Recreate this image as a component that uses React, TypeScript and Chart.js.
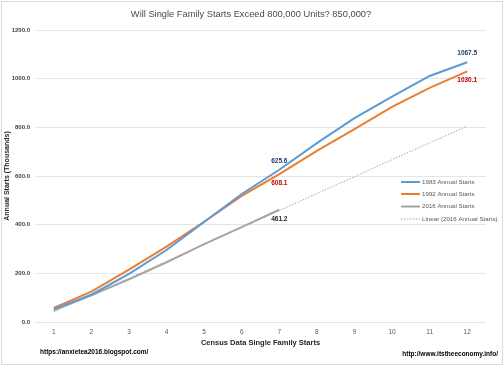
import React, { useEffect, useRef } from "react";
import { Chart, registerables } from "chart.js";

Chart.register(...registerables);

const chartTitle = "Will Single Family Starts Exceed 800,000 Units? 850,000?";
const categories = ["1", "2", "3", "4", "5", "6", "7", "8", "9", "10", "11", "12"];
const starts1983 = [53, 112, 198, 296, 411, 526, 625.6, 735, 838, 926, 1011, 1067.5];
const starts1992 = [58, 125, 215, 310, 412, 518, 608.1, 703, 793, 884, 962, 1030.1];
const starts2016 = [48, 110, 175, 245, 320, 390, 461.2, null, null, null, null, null];
const linear2016 = [42, 111, 180, 250, 319, 389, 458, 528, 597, 667, 736, 805];
const yTicks = [0, 200, 400, 600, 800, 1000, 1200];

const FONT = "'Liberation Sans', Arial, sans-serif";

const decorPlugin = {
  id: "decor",
  afterDatasetsDraw(chart: any) {
    const ctx = chart.ctx;
    ctx.save();
    // data labels
    const labels: [number, number, string, number][] = [
      [0, 6, "#1F3864", -9],
      [0, 11, "#1F3864", -9],
      [1, 6, "#C00000", 9],
      [1, 11, "#C00000", 9],
      [2, 6, "#262626", 9],
    ];
    ctx.font = `bold 6.5px ${FONT}`;
    ctx.textAlign = "center";
    ctx.textBaseline = "middle";
    for (const [di, pi, color, dy] of labels) {
      const meta = chart.getDatasetMeta(di);
      const pt = meta.data[pi];
      const v = chart.data.datasets[di].data[pi];
      ctx.fillStyle = color;
      ctx.fillText(Number(v).toFixed(1), pt.x, pt.y + dy);
    }
    // legend
    const legendX = 401;
    const rows = [182, 194, 206.5, 219];
    chart.data.datasets.forEach((ds: any, i: number) => {
      const y = rows[i];
      ctx.beginPath();
      ctx.strokeStyle = ds.borderColor;
      ctx.lineWidth = ds.borderWidth;
      ctx.setLineDash(ds.borderDash || []);
      ctx.moveTo(legendX, y);
      ctx.lineTo(legendX + 19, y);
      ctx.stroke();
      ctx.setLineDash([]);
      ctx.fillStyle = "#595959";
      ctx.font = `6.2px ${FONT}`;
      ctx.textAlign = "left";
      ctx.textBaseline = "middle";
      ctx.fillText(ds.label, legendX + 21, y);
    });
    ctx.restore();
  },
  afterDraw(chart: any) {
    const ctx = chart.ctx;
    ctx.save();
    ctx.fillStyle = "#4A4A4A";
    ctx.font = `9.3px ${FONT}`;
    ctx.textAlign = "center";
    ctx.textBaseline = "middle";
    ctx.fillText(chartTitle, 251, 14);
    ctx.fillStyle = "#000000";
    ctx.font = `bold 6.5px ${FONT}`;
    ctx.textAlign = "left";
    ctx.fillText("https://anxietea2016.blogspot.com/", 40, 352);
    ctx.textAlign = "right";
    ctx.fillText("http://www.itstheeconomy.info/", 498, 354.5);
    ctx.strokeStyle = "#D9D9D9";
    ctx.lineWidth = 1;
    ctx.strokeRect(1.5, 1.5, 501, 363);
    ctx.restore();
  },
};

export default function App() {
  const ref = useRef<HTMLCanvasElement>(null);
  useEffect(() => {
    document.body.style.margin = "0";
    const chart = new Chart(ref.current as HTMLCanvasElement, {
      type: "line",
      data: {
        labels: categories,
        datasets: [
          { label: "1983 Annual Starts", data: starts1983, borderColor: "#5B9BD5", backgroundColor: "#5B9BD5", borderWidth: 2, pointRadius: 0, tension: 0 },
          { label: "1992 Annual Starts", data: starts1992, borderColor: "#ED7D31", backgroundColor: "#ED7D31", borderWidth: 2, pointRadius: 0, tension: 0 },
          { label: "2016 Annual Starts", data: starts2016 as any, borderColor: "#A5A5A5", backgroundColor: "#A5A5A5", borderWidth: 2, pointRadius: 0, tension: 0 },
          { label: "Linear (2016 Annual Starts)", data: linear2016, borderColor: "#A5A5A5", backgroundColor: "#A5A5A5", borderWidth: 1, borderDash: [1.5, 1.5], pointRadius: 0, tension: 0 },
        ],
      },
      options: {
        animation: false,
        responsive: false,
        layout: { padding: { top: 30, right: 18, bottom: 0, left: 0 } },
        plugins: {
          legend: { display: false },
          tooltip: { enabled: false },
          title: { display: false },
        },
        scales: {
          x: {
            offset: true,
            grid: { display: false, drawTicks: false },
            border: { display: false },
            ticks: { color: "#595959", font: { family: FONT, size: 6.5 }, padding: 6 },
            title: {
              display: true,
              text: "Census Data Single Family Starts",
              color: "#262626",
              font: { family: FONT, size: 7.5, weight: "bold" },
              padding: { top: 0, bottom: 19 },
            },
            afterFit: (s: any) => { s.height = 44; },
          },
          y: {
            min: 0,
            max: 1200,
            afterBuildTicks: (s: any) => { s.ticks = yTicks.map((v) => ({ value: v })); },
            grid: { color: "#E5E5E5", drawTicks: false },
            border: { display: false },
            ticks: {
              color: "#404040",
              font: { family: FONT, size: 6, weight: "bold" },
              padding: 5,
              callback: (v: any) => Number(v).toFixed(1),
            },
            title: {
              display: true,
              text: "Annual Starts (Thousands)",
              color: "#262626",
              font: { family: FONT, size: 7, weight: "bold" },
              padding: { top: 3, bottom: 0 },
            },
            afterFit: (s: any) => { s.width = 35; },
          },
        },
      },
      plugins: [decorPlugin],
    });
    return () => chart.destroy();
  }, []);
  return (
    <div style={{ width: 504, height: 366 }}>
      <canvas ref={ref} width={504} height={366} style={{ display: "block" }} />
    </div>
  );
}
